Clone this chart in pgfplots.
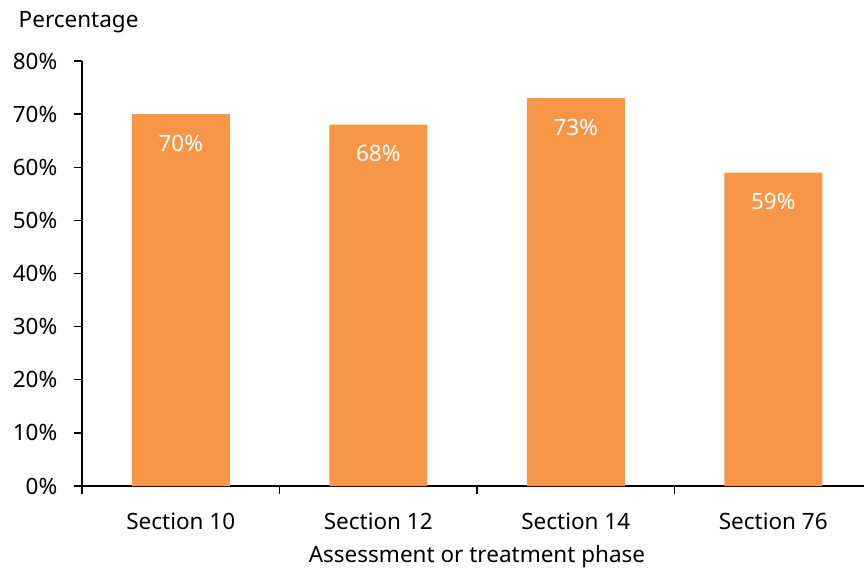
\documentclass[border=0pt]{standalone}
\usepackage{pgfplots}
\pgfplotsset{compat=1.18}
\usepackage{fontspec}
\setmainfont{Noto Sans}
\definecolor{barorange}{HTML}{F79646}
\begin{document}
\fontsize{22.5}{27}\selectfont
\begin{tikzpicture}[x=1pt,y=1pt]
\begin{axis}[
  at={(82pt,85pt)}, anchor=south west,
  scale only axis, width=790pt, height=425pt,
  xmin=-0.5, xmax=3.5, ymin=0, ymax=80,
  axis x line*=bottom, axis y line*=left,
  axis line style={line width=1.3pt, -},
  xtick={0,1,2,3},
  xticklabels={Section 10, Section 12, Section 14, Section 76},
  minor xtick={-0.5,0.5,1.5,2.5,3.5},
  major tick length=8pt, minor tick length=8pt,
  x tick style={draw=none},
  minor x tick style={draw=black, line width=1.3pt},
  y tick style={line width=1.3pt, black},
  tick align=outside,
  ytick={0,10,...,80},
  yticklabel={\pgfmathprintnumber{\tick}\%},
  /pgf/number format/assume math mode=true,
  ticklabel style={font=\fontsize{22.5}{27}\selectfont},
  xticklabel style={yshift=-11pt},
  yticklabel style={xshift=-9pt},
  xlabel={Assessment or treatment phase},
  xlabel style={font=\fontsize{22.5}{27}\selectfont, yshift=-1pt},
  ybar, bar width=98pt,
  nodes near coords={\pgfmathprintnumber{\pgfplotspointmeta}\%},
  nodes near coords style={font=\fontsize{22.5}{27}\selectfont, text=white, anchor=north, yshift=-13pt},
  clip=false,
]
\addplot[fill=barorange, draw=none] coordinates {(0,70) (1,68) (2,73) (3,59)};
\node[anchor=west, font=\fontsize{22.5}{27}\selectfont] at (rel axis cs:0,1) [xshift=-71pt, yshift=39pt] {Percentage};
\end{axis}
\pgfresetboundingbox
\useasboundingbox (0,0) rectangle (864pt,571pt);
\end{tikzpicture}
\end{document}
